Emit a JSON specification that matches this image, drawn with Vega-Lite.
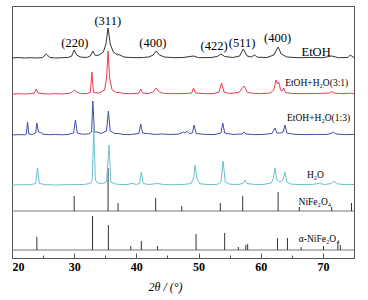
{
  "$schema": "https://vega.github.io/schema/vega-lite/v6.json",
  "width": 342,
  "height": 252,
  "autosize": {"type": "none"},
  "padding": {"left": 12, "top": 6, "right": 14, "bottom": 42},
  "config": {
    "view": {"stroke": "#555", "strokeWidth": 1},
    "axisX": {
      "domainColor": "#555",
      "tickColor": "#555",
      "grid": false,
      "labelFont": "Liberation Serif",
      "labelFontWeight": "bold",
      "labelFontSize": 12,
      "labelColor": "#000",
      "labelPadding": 8,
      "titleFont": "Liberation Serif",
      "titleFontStyle": "italic",
      "titleFontWeight": "normal",
      "titleFontSize": 12,
      "titleColor": "#000"
    }
  },
  "datasets": {
    "traces": [
      {"s":"EtOH","x":20,"y":200},{"s":"EtOH","x":21,"y":200.5},{"s":"EtOH","x":22,"y":200},{"s":"EtOH","x":23,"y":200.3},{"s":"EtOH","x":24,"y":200},{"s":"EtOH","x":24.9,"y":200.5},{"s":"EtOH","x":25.5,"y":204},{"s":"EtOH","x":26.1,"y":200.5},{"s":"EtOH","x":27,"y":200},{"s":"EtOH","x":28,"y":200.3},{"s":"EtOH","x":29,"y":200.5},{"s":"EtOH","x":29.6,"y":202},{"s":"EtOH","x":30.0,"y":208},{"s":"EtOH","x":30.4,"y":203},{"s":"EtOH","x":31,"y":201},{"s":"EtOH","x":32,"y":200.5},{"s":"EtOH","x":32.6,"y":202},{"s":"EtOH","x":33.0,"y":207},{"s":"EtOH","x":33.4,"y":202.5},{"s":"EtOH","x":34,"y":203},{"s":"EtOH","x":34.7,"y":206},{"s":"EtOH","x":35.1,"y":214},{"s":"EtOH","x":35.45,"y":230},{"s":"EtOH","x":35.8,"y":214},{"s":"EtOH","x":36.3,"y":206},{"s":"EtOH","x":37.0,"y":203},{"s":"EtOH","x":37.2,"y":203.5},{"s":"EtOH","x":38,"y":201},{"s":"EtOH","x":39,"y":200.5},{"s":"EtOH","x":40,"y":200.3},{"s":"EtOH","x":41,"y":200.5},{"s":"EtOH","x":42,"y":201},{"s":"EtOH","x":42.7,"y":203},{"s":"EtOH","x":43.2,"y":207},{"s":"EtOH","x":43.7,"y":203},{"s":"EtOH","x":44.5,"y":201},{"s":"EtOH","x":46,"y":200.3},{"s":"EtOH","x":47.5,"y":200.5},{"s":"EtOH","x":49.2,"y":202},{"s":"EtOH","x":50,"y":200.3},{"s":"EtOH","x":52,"y":200.5},{"s":"EtOH","x":53.0,"y":201.5},{"s":"EtOH","x":53.6,"y":204},{"s":"EtOH","x":54.2,"y":201.5},{"s":"EtOH","x":55.5,"y":200.5},{"s":"EtOH","x":56.6,"y":202},{"s":"EtOH","x":57.2,"y":209},{"s":"EtOH","x":57.8,"y":202},{"s":"EtOH","x":58.5,"y":201},{"s":"EtOH","x":59.0,"y":203},{"s":"EtOH","x":59.5,"y":200.8},{"s":"EtOH","x":61,"y":200.5},{"s":"EtOH","x":62.1,"y":203},{"s":"EtOH","x":62.8,"y":211},{"s":"EtOH","x":63.3,"y":204},{"s":"EtOH","x":64.2,"y":201},{"s":"EtOH","x":66,"y":200.3},{"s":"EtOH","x":68,"y":200.5},{"s":"EtOH","x":70,"y":200.3},{"s":"EtOH","x":71.4,"y":202},{"s":"EtOH","x":72.5,"y":200.3},{"s":"EtOH","x":74,"y":200.5},{"s":"EtOH","x":74.4,"y":203},{"s":"EtOH","x":75,"y":200.3},

      {"s":"3:1","x":20,"y":164},{"s":"3:1","x":21,"y":164.3},{"s":"3:1","x":22,"y":164},{"s":"3:1","x":23,"y":164.4},{"s":"3:1","x":23.6,"y":165},{"s":"3:1","x":23.9,"y":169},{"s":"3:1","x":24.2,"y":165},{"s":"3:1","x":25,"y":164.3},{"s":"3:1","x":26,"y":164},{"s":"3:1","x":27,"y":164.4},{"s":"3:1","x":28,"y":164},{"s":"3:1","x":29.2,"y":164.6},{"s":"3:1","x":29.7,"y":166},{"s":"3:1","x":30.0,"y":168},{"s":"3:1","x":30.4,"y":166},{"s":"3:1","x":31,"y":164.5},{"s":"3:1","x":32,"y":164.3},{"s":"3:1","x":32.6,"y":165.5},{"s":"3:1","x":32.85,"y":186},{"s":"3:1","x":33.1,"y":165.5},{"s":"3:1","x":34,"y":165},{"s":"3:1","x":34.9,"y":168},{"s":"3:1","x":35.2,"y":180},{"s":"3:1","x":35.45,"y":207},{"s":"3:1","x":35.7,"y":180},{"s":"3:1","x":36.1,"y":168},{"s":"3:1","x":36.8,"y":165.5},{"s":"3:1","x":37.2,"y":165.5},{"s":"3:1","x":38,"y":164.5},{"s":"3:1","x":39,"y":164.3},{"s":"3:1","x":40.4,"y":164.8},{"s":"3:1","x":40.7,"y":169},{"s":"3:1","x":41.0,"y":165},{"s":"3:1","x":42,"y":164.5},{"s":"3:1","x":42.7,"y":166},{"s":"3:1","x":43.2,"y":170},{"s":"3:1","x":43.7,"y":166},{"s":"3:1","x":44.5,"y":164.5},{"s":"3:1","x":46,"y":164.3},{"s":"3:1","x":47.5,"y":164.5},{"s":"3:1","x":48.9,"y":165},{"s":"3:1","x":49.2,"y":170},{"s":"3:1","x":49.5,"y":165},{"s":"3:1","x":51,"y":164.3},{"s":"3:1","x":52.5,"y":164.5},{"s":"3:1","x":53.3,"y":166},{"s":"3:1","x":53.7,"y":175},{"s":"3:1","x":54.1,"y":166},{"s":"3:1","x":55,"y":164.5},{"s":"3:1","x":56.5,"y":165.5},{"s":"3:1","x":57.3,"y":172},{"s":"3:1","x":57.9,"y":165.5},{"s":"3:1","x":59,"y":164.5},{"s":"3:1","x":60,"y":164.3},{"s":"3:1","x":61.5,"y":165},{"s":"3:1","x":62.1,"y":168},{"s":"3:1","x":62.45,"y":178},{"s":"3:1","x":62.7,"y":174},{"s":"3:1","x":62.9,"y":176},{"s":"3:1","x":63.2,"y":168},{"s":"3:1","x":63.5,"y":167},{"s":"3:1","x":63.7,"y":170},{"s":"3:1","x":64.0,"y":165.5},{"s":"3:1","x":65,"y":164.5},{"s":"3:1","x":67,"y":164.3},{"s":"3:1","x":69,"y":164.5},{"s":"3:1","x":71.0,"y":165},{"s":"3:1","x":71.4,"y":166.5},{"s":"3:1","x":71.8,"y":165},{"s":"3:1","x":73,"y":164.3},{"s":"3:1","x":74.5,"y":164.8},{"s":"3:1","x":75,"y":164.3},

      {"s":"1:3","x":20,"y":123},{"s":"1:3","x":21,"y":123.4},{"s":"1:3","x":22,"y":123.2},{"s":"1:3","x":22.3,"y":124},{"s":"1:3","x":22.5,"y":136},{"s":"1:3","x":22.7,"y":124},{"s":"1:3","x":23.3,"y":123.5},{"s":"1:3","x":23.8,"y":125},{"s":"1:3","x":24.0,"y":135},{"s":"1:3","x":24.25,"y":126},{"s":"1:3","x":24.6,"y":125.5},{"s":"1:3","x":25,"y":123.8},{"s":"1:3","x":26,"y":123.3},{"s":"1:3","x":27,"y":123.6},{"s":"1:3","x":28,"y":123.2},{"s":"1:3","x":29,"y":123.5},{"s":"1:3","x":29.9,"y":125},{"s":"1:3","x":30.2,"y":138},{"s":"1:3","x":30.5,"y":125},{"s":"1:3","x":31.3,"y":123.8},{"s":"1:3","x":32.3,"y":124},{"s":"1:3","x":32.8,"y":126},{"s":"1:3","x":33.0,"y":157},{"s":"1:3","x":33.25,"y":126},{"s":"1:3","x":33.7,"y":126},{"s":"1:3","x":34.3,"y":124.5},{"s":"1:3","x":35.2,"y":127},{"s":"1:3","x":35.5,"y":147},{"s":"1:3","x":35.8,"y":127},{"s":"1:3","x":36.5,"y":124.5},{"s":"1:3","x":37.1,"y":124.5},{"s":"1:3","x":38,"y":123.5},{"s":"1:3","x":39,"y":123.4},{"s":"1:3","x":40.4,"y":124.5},{"s":"1:3","x":40.7,"y":134},{"s":"1:3","x":41.0,"y":125},{"s":"1:3","x":41.8,"y":124.5},{"s":"1:3","x":43,"y":123.6},{"s":"1:3","x":44.2,"y":124},{"s":"1:3","x":45.5,"y":123.5},{"s":"1:3","x":46.8,"y":124},{"s":"1:3","x":47.6,"y":126},{"s":"1:3","x":47.8,"y":125},{"s":"1:3","x":48.1,"y":127},{"s":"1:3","x":48.5,"y":124.5},{"s":"1:3","x":49.0,"y":125},{"s":"1:3","x":49.3,"y":133},{"s":"1:3","x":49.6,"y":124.5},{"s":"1:3","x":51,"y":123.6},{"s":"1:3","x":52.5,"y":123.4},{"s":"1:3","x":53.6,"y":125},{"s":"1:3","x":53.9,"y":135},{"s":"1:3","x":54.2,"y":125},{"s":"1:3","x":55.5,"y":123.6},{"s":"1:3","x":57.0,"y":124},{"s":"1:3","x":57.3,"y":126},{"s":"1:3","x":57.6,"y":124},{"s":"1:3","x":59,"y":123.4},{"s":"1:3","x":60.5,"y":123.6},{"s":"1:3","x":61.8,"y":124.5},{"s":"1:3","x":62.3,"y":130},{"s":"1:3","x":62.6,"y":125},{"s":"1:3","x":63.2,"y":125},{"s":"1:3","x":63.6,"y":126},{"s":"1:3","x":63.9,"y":133},{"s":"1:3","x":64.2,"y":125},{"s":"1:3","x":65.5,"y":123.6},{"s":"1:3","x":67,"y":123.4},{"s":"1:3","x":69,"y":123.6},{"s":"1:3","x":70.5,"y":123.5},{"s":"1:3","x":71.3,"y":124.5},{"s":"1:3","x":71.7,"y":126},{"s":"1:3","x":72.1,"y":124},{"s":"1:3","x":73.5,"y":123.4},{"s":"1:3","x":75,"y":123.6},

      {"s":"H2O","x":20,"y":73},{"s":"H2O","x":21.5,"y":73.3},{"s":"H2O","x":23,"y":73.3},{"s":"H2O","x":23.8,"y":74.5},{"s":"H2O","x":24.1,"y":90},{"s":"H2O","x":24.4,"y":74.5},{"s":"H2O","x":25.5,"y":73.3},{"s":"H2O","x":27,"y":73},{"s":"H2O","x":28.5,"y":73.3},{"s":"H2O","x":30,"y":73.4},{"s":"H2O","x":31.5,"y":73.5},{"s":"H2O","x":32.6,"y":74.5},{"s":"H2O","x":32.9,"y":78},{"s":"H2O","x":33.15,"y":130},{"s":"H2O","x":33.4,"y":78},{"s":"H2O","x":33.8,"y":75},{"s":"H2O","x":34.6,"y":74.5},{"s":"H2O","x":35.2,"y":76},{"s":"H2O","x":35.6,"y":113},{"s":"H2O","x":35.9,"y":76},{"s":"H2O","x":36.6,"y":74},{"s":"H2O","x":37.5,"y":73.5},{"s":"H2O","x":38.5,"y":73.5},{"s":"H2O","x":39.3,"y":74.5},{"s":"H2O","x":40,"y":73.6},{"s":"H2O","x":40.5,"y":74.5},{"s":"H2O","x":40.8,"y":86},{"s":"H2O","x":41.1,"y":74.5},{"s":"H2O","x":42,"y":73.5},{"s":"H2O","x":43.4,"y":74.5},{"s":"H2O","x":44.5,"y":73.4},{"s":"H2O","x":46,"y":73.3},{"s":"H2O","x":47.5,"y":73.4},{"s":"H2O","x":48.8,"y":74.5},{"s":"H2O","x":49.2,"y":80},{"s":"H2O","x":49.45,"y":93},{"s":"H2O","x":49.7,"y":80},{"s":"H2O","x":50.2,"y":74.3},{"s":"H2O","x":51.5,"y":73.4},{"s":"H2O","x":53,"y":73.6},{"s":"H2O","x":53.6,"y":76},{"s":"H2O","x":53.95,"y":97},{"s":"H2O","x":54.3,"y":76},{"s":"H2O","x":55,"y":73.8},{"s":"H2O","x":56.5,"y":73.5},{"s":"H2O","x":57.2,"y":75},{"s":"H2O","x":57.5,"y":78},{"s":"H2O","x":57.8,"y":74.5},{"s":"H2O","x":59,"y":73.5},{"s":"H2O","x":60.5,"y":73.6},{"s":"H2O","x":61.7,"y":75},{"s":"H2O","x":62.0,"y":79},{"s":"H2O","x":62.3,"y":90},{"s":"H2O","x":62.6,"y":78},{"s":"H2O","x":63.1,"y":76},{"s":"H2O","x":63.6,"y":78},{"s":"H2O","x":63.9,"y":86},{"s":"H2O","x":64.2,"y":76},{"s":"H2O","x":64.8,"y":74},{"s":"H2O","x":66,"y":73.5},{"s":"H2O","x":68,"y":73.4},{"s":"H2O","x":69.4,"y":74.5},{"s":"H2O","x":70.3,"y":73.5},{"s":"H2O","x":71.4,"y":74.5},{"s":"H2O","x":71.8,"y":77},{"s":"H2O","x":72.2,"y":74.3},{"s":"H2O","x":73.5,"y":73.4},{"s":"H2O","x":75,"y":73.5}
    ],
    "sticks": [
      {"ref":"NiFe2O4","x":30.0,"base":47,"top":62},
      {"ref":"NiFe2O4","x":35.45,"base":47,"top":90},
      {"ref":"NiFe2O4","x":37.05,"base":47,"top":55},
      {"ref":"NiFe2O4","x":43.1,"base":47,"top":60},
      {"ref":"NiFe2O4","x":47.3,"base":47,"top":52},
      {"ref":"NiFe2O4","x":53.5,"base":47,"top":55},
      {"ref":"NiFe2O4","x":57.1,"base":47,"top":62},
      {"ref":"NiFe2O4","x":62.8,"base":47,"top":66},
      {"ref":"NiFe2O4","x":66.2,"base":47,"top":51},
      {"ref":"NiFe2O4","x":71.4,"base":47,"top":51},
      {"ref":"NiFe2O4","x":74.6,"base":47,"top":55},
      {"ref":"alpha","x":24.0,"base":8,"top":21},
      {"ref":"alpha","x":32.95,"base":8,"top":42},
      {"ref":"alpha","x":35.5,"base":8,"top":33},
      {"ref":"alpha","x":39.1,"base":8,"top":12},
      {"ref":"alpha","x":40.8,"base":8,"top":17},
      {"ref":"alpha","x":43.4,"base":8,"top":12},
      {"ref":"alpha","x":49.6,"base":8,"top":24},
      {"ref":"alpha","x":54.2,"base":8,"top":25},
      {"ref":"alpha","x":56.4,"base":8,"top":11},
      {"ref":"alpha","x":57.6,"base":8,"top":13},
      {"ref":"alpha","x":57.9,"base":8,"top":14},
      {"ref":"alpha","x":62.7,"base":8,"top":20},
      {"ref":"alpha","x":64.3,"base":8,"top":20},
      {"ref":"alpha","x":66.5,"base":8,"top":11},
      {"ref":"alpha","x":70.1,"base":8,"top":12},
      {"ref":"alpha","x":72.4,"base":8,"top":15},
      {"ref":"alpha","x":72.8,"base":8,"top":13}
    ],
    "baselines": [{"ref":"NiFe2O4","b":47},{"ref":"alpha","b":8}],
    "hkl": [
      {"t":"(220)","x":30.1,"y":215},
      {"t":"(311)","x":35.4,"y":237},
      {"t":"(400)","x":42.65,"y":215},
      {"t":"(422)","x":52.5,"y":212},
      {"t":"(511)","x":57.0,"y":215},
      {"t":"(400)","x":62.7,"y":220.5},
      {"t":"EtOH","x":68.9,"y":206.5}
    ],
    "names": [
      {"t":"EtOH+H₂O(3:1)","x":69.0,"y":175.5},
      {"t":"EtOH+H₂O(1:3)","x":69.3,"y":140},
      {"t":"H₂O","x":68.8,"y":83},
      {"t":"NiFe₂O₄","x":68.7,"y":56.5},
      {"t":"α-NiFe₂O₄","x":69.4,"y":19}
    ]
  },
  "layer": [
    {
      "data": {"name": "baselines"},
      "mark": {"type": "rule", "color": "#777", "strokeWidth": 1},
      "encoding": {
        "y": {"field": "b", "type": "quantitative", "scale": {"domain": [0, 252], "nice": false, "zero": false}, "axis": null}
      }
    },
    {
      "data": {"name": "sticks"},
      "mark": {"type": "rule", "color": "#333", "strokeWidth": 1},
      "encoding": {
        "x": {"field": "x", "type": "quantitative", "scale": {"domain": [20, 75], "nice": false, "zero": false},
              "axis": {"title": "2θ / (°)", "values": [20,25,30,35,40,45,50,55,60,65,70,75], "labelExpr": "datum.value % 10 === 0 && datum.value < 75 ? datum.label : ''", "tickSize": {"condition": {"test": "datum.value % 10 === 0", "value": -5}, "value": -3}, "titleX": 153, "titleY": 28, "titleBaseline": "middle", "titleAlign": "center"}},
        "y": {"field": "base", "type": "quantitative", "scale": {"domain": [0, 252], "nice": false, "zero": false}, "axis": null},
        "y2": {"field": "top"}
      }
    },
    {
      "data": {"name": "traces"},
      "mark": {"type": "line", "strokeWidth": 1, "interpolate": "linear"},
      "encoding": {
        "x": {"field": "x", "type": "quantitative", "scale": {"domain": [20, 75], "nice": false, "zero": false},
              "axis": {"title": "2θ / (°)", "values": [20,25,30,35,40,45,50,55,60,65,70,75], "labelExpr": "datum.value % 10 === 0 && datum.value < 75 ? datum.label : ''", "tickSize": {"condition": {"test": "datum.value % 10 === 0", "value": -5}, "value": -3}, "titleX": 153, "titleY": 28, "titleBaseline": "middle", "titleAlign": "center"}},
        "y": {"field": "y", "type": "quantitative", "scale": {"domain": [0, 252], "nice": false, "zero": false}, "axis": null},
        "color": {"field": "s", "type": "nominal", "legend": null,
                  "scale": {"domain": ["EtOH", "3:1", "1:3", "H2O"], "range": ["#333333", "#e5404a", "#3f4ea5", "#6cc0cc"]}},
        "order": {"field": "x", "type": "quantitative"}
      }
    },
    {
      "data": {"name": "hkl"},
      "mark": {"type": "text", "font": "Liberation Serif", "fontSize": 12.5, "color": "#000", "baseline": "middle", "align": "center"},
      "encoding": {
        "x": {"field": "x", "type": "quantitative", "scale": {"domain": [20, 75], "nice": false, "zero": false},
              "axis": {"title": "2θ / (°)", "values": [20,25,30,35,40,45,50,55,60,65,70,75], "labelExpr": "datum.value % 10 === 0 && datum.value < 75 ? datum.label : ''", "tickSize": {"condition": {"test": "datum.value % 10 === 0", "value": -5}, "value": -3}, "titleX": 153, "titleY": 28, "titleBaseline": "middle", "titleAlign": "center"}},
        "y": {"field": "y", "type": "quantitative", "scale": {"domain": [0, 252], "nice": false, "zero": false}, "axis": null},
        "text": {"field": "t"}
      }
    },
    {
      "data": {"name": "names"},
      "mark": {"type": "text", "font": "Liberation Serif", "fontSize": 9.5, "color": "#000", "baseline": "middle", "align": "center"},
      "encoding": {
        "x": {"field": "x", "type": "quantitative", "scale": {"domain": [20, 75], "nice": false, "zero": false},
              "axis": {"title": "2θ / (°)", "values": [20,25,30,35,40,45,50,55,60,65,70,75], "labelExpr": "datum.value % 10 === 0 && datum.value < 75 ? datum.label : ''", "tickSize": {"condition": {"test": "datum.value % 10 === 0", "value": -5}, "value": -3}, "titleX": 153, "titleY": 28, "titleBaseline": "middle", "titleAlign": "center"}},
        "y": {"field": "y", "type": "quantitative", "scale": {"domain": [0, 252], "nice": false, "zero": false}, "axis": null},
        "text": {"field": "t"}
      }
    }
  ]
}
